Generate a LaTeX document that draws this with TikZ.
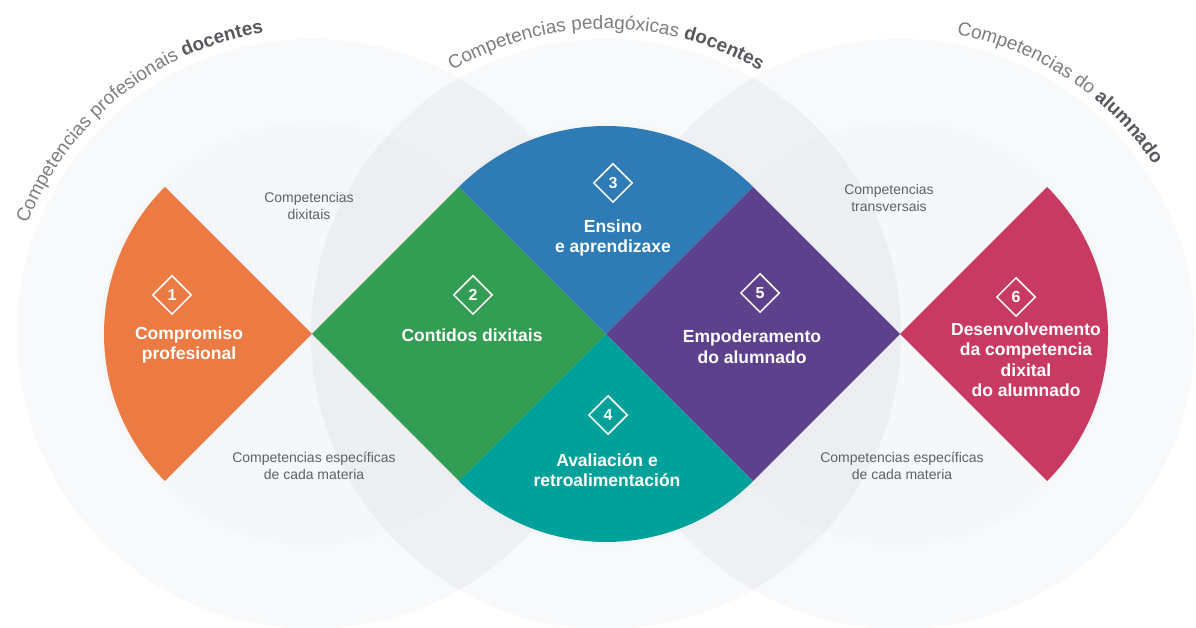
\documentclass[tikz,border=0pt]{standalone}
\usepackage{fontspec}
\setmainfont{Liberation Sans}
\usetikzlibrary{shapes.geometric, decorations.text}
\definecolor{bgpale}{RGB}{248,249,250}
\definecolor{bglens}{RGB}{239,240,243}
\definecolor{orangeA}{RGB}{236,122,67}
\definecolor{greenA}{RGB}{51,157,84}
\definecolor{blueA}{RGB}{46,123,182}
\definecolor{tealA}{RGB}{0,161,154}
\definecolor{purpleA}{RGB}{94,65,140}
\definecolor{roseA}{RGB}{201,58,98}
\definecolor{titlegrey}{RGB}{125,125,130}
\definecolor{titledark}{RGB}{88,88,93}
\definecolor{notegrey}{RGB}{95,97,102}
\newcommand{\half}{147}
\newcommand{\wing}{208}
\newcommand{\halo}{295}
\newcommand{\core}{212}
\newcommand{\titleR}{305}
\newcommand{\titlefont}{\color{titlegrey}\fontsize{19}{19}\selectfont}
\newcommand{\titlebold}{\color{titledark}\bfseries\fontsize{19}{19}\selectfont}
\newcommand{\marker}[2]{ node[name={#1}, marker] {#2}}
\tikzset{marker/.style={diamond, draw=white, line width=1.5pt, minimum width=39pt, minimum height=39pt, inner sep=0pt, text=white, font=\bfseries\fontsize{16}{16}\selectfont}}
\tikzset{areatext/.style={text=white, align=center, inner sep=0pt, font=\bfseries\fontsize{17.5}{20.5}\selectfont}}
\tikzset{notetext/.style={text=notegrey, align=center, inner sep=0pt, font=\fontsize{14}{17.5}\selectfont}}
\tikzset{arctitle/.style={decorate, decoration={text along path, text align=center, text={#1}}}}

\begin{document}
\begin{tikzpicture}[x=1pt, y=1pt]
  \useasboundingbox (0,0) rectangle (1196,628);

  % --- halos ---
  \fill[bgpale] (312,294) circle[radius=\halo]
                (606,294) circle[radius=\halo]
                (900,294) circle[radius=\halo];
  \begin{scope}
    \clip (312,294) circle[radius=\halo];
    \fill[bglens] (606,294) circle[radius=\halo];
  \end{scope}
  \begin{scope}
    \clip (606,294) circle[radius=\halo];
    \fill[bglens] (900,294) circle[radius=\halo];
  \end{scope}
  \fill[black, opacity=.008] (312,294) circle[radius=\core];
  \fill[black, opacity=.008] (606,294) circle[radius=\core];
  \fill[black, opacity=.008] (900,294) circle[radius=\core];

  % --- titles on the halos ---
  \path[arctitle={|\titlefont|Competencias profesionais |\titlebold|docentes}]
    (312,294) ++(169:\titleR) arc[start angle=169, end angle=89, radius=\titleR];
  \path[arctitle={|\titlefont|Competencias pedagóxicas |\titlebold|docentes}]
    (606,294) ++(130:\titleR) arc[start angle=130, end angle=50, radius=\titleR];
  \path[arctitle={|\titlefont|Competencias do |\titlebold|alumnado}]
    (900,294) ++(96.5:\titleR) arc[start angle=96.5, end angle=16.5, radius=\titleR];

  % --- area 1 ---
  \fill[orangeA] (312,294) -- ++(135:\wing) arc[start angle=135, end angle=225, radius=\wing] -- cycle;
  \path (172,333) \marker{m1}{1};
  \node[areatext] (a1) at (189,283) {Compromiso\\profesional};

  % --- area 2 ---
  \fill[greenA] (312,294) -- ++(\half,\half) -- ++(\half,-\half) -- ++(-\half,-\half) -- cycle;
  \path (473,333) \marker{m2}{2};
  \node[areatext] (a2) at (472,293) {Contidos dixitais};

  % --- areas 3 and 4 ---
  \fill[blueA] (606,294) -- ++(45:\wing) arc[start angle=45, end angle=135, radius=\wing] -- cycle;
  \fill[tealA] (606,294) -- ++(225:\wing) arc[start angle=225, end angle=315, radius=\wing] -- cycle;
  \path (613,445) \marker{m3}{3};
  \node[areatext] (a3) at (613,390) {Ensino\\e aprendizaxe};
  \path (608,213) \marker{m4}{4};
  \node[areatext] (a4) at (607,158) {Avaliación e\\retroalimentación};

  % --- area 5 ---
  \fill[purpleA] (606,294) -- ++(\half,\half) -- ++(\half,-\half) -- ++(-\half,-\half) -- cycle;
  \path (760,335) \marker{m5}{5};
  \node[areatext] (a5) at (752,281) {Empoderamento\\do alumnado};

  % --- area 6 ---
  \fill[roseA] (900,294) -- ++(45:\wing) arc[start angle=45, end angle=-45, radius=\wing] -- cycle;
  \path (1016,331) \marker{m6}{6};
  \node[areatext] (a6) at (1026,268) {Desenvolvemento\\da competencia\\dixital\\do alumnado};

  % --- notes between the areas ---
  \node[notetext] (n1) at (309,422) {Competencias\\dixitais};
  \node[notetext] (n2) at (314,162) {Competencias específicas\\de cada materia};
  \node[notetext] (n3) at (889,430) {Competencias\\transversais};
  \node[notetext] (n4) at (902,162) {Competencias específicas\\de cada materia};
\end{tikzpicture}
\end{document}
